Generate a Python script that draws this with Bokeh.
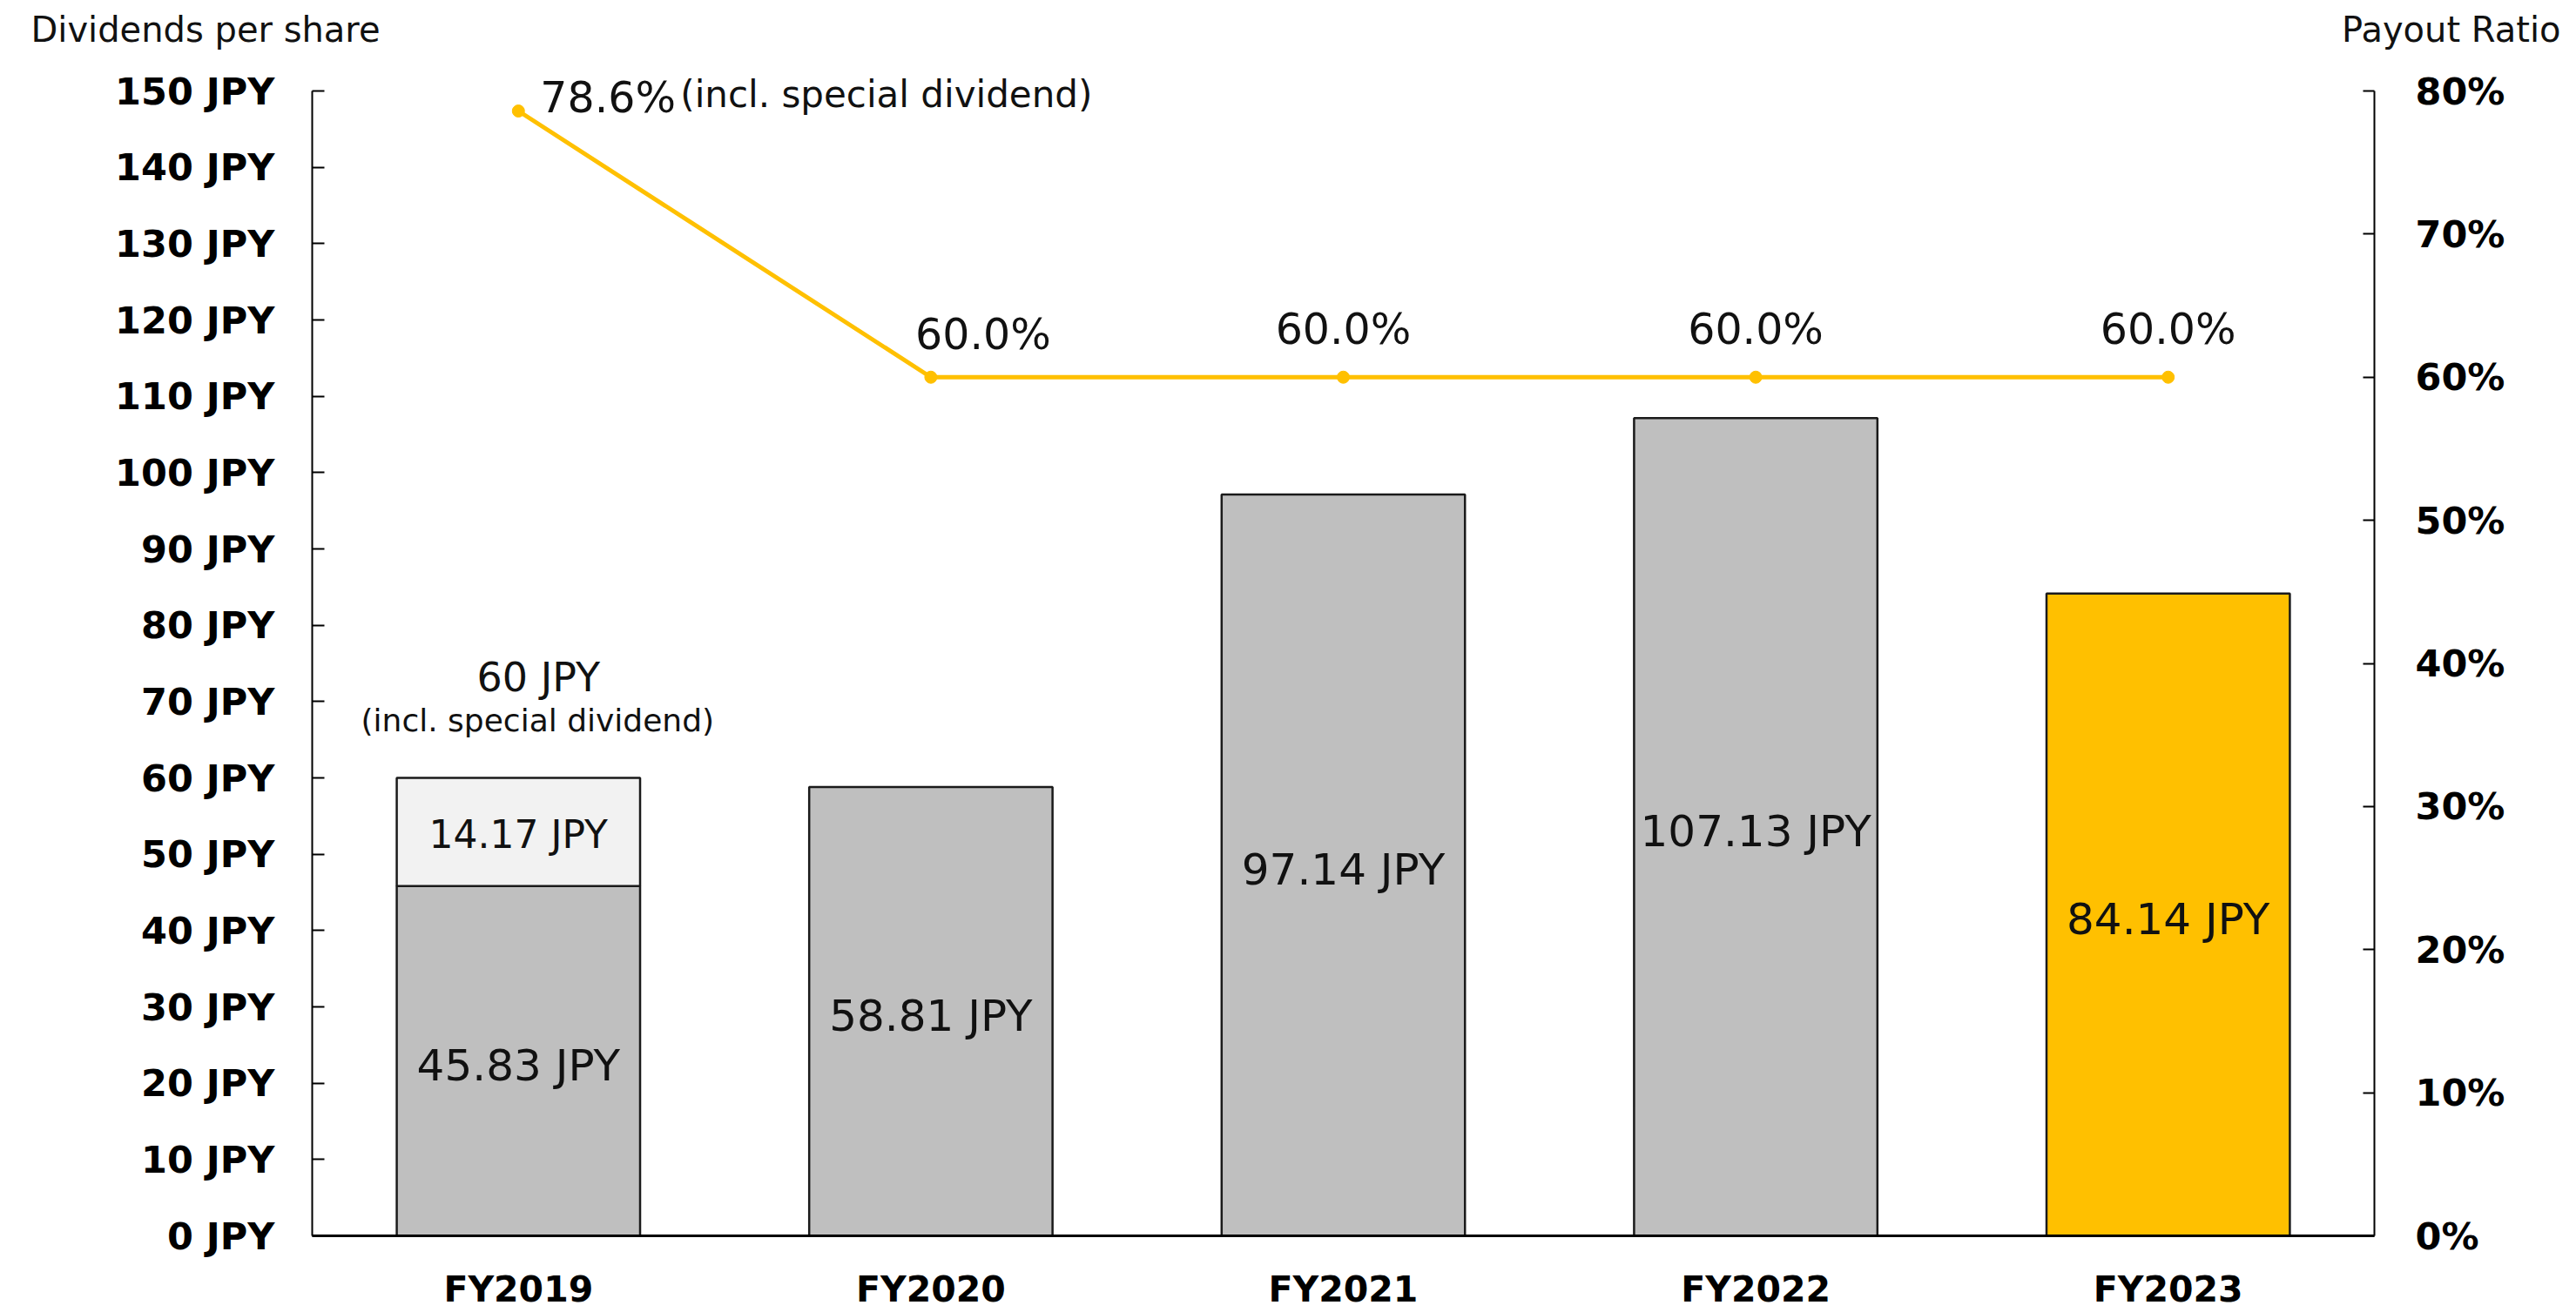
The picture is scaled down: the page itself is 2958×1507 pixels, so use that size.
from bokeh.plotting import figure
from bokeh.layouts import column
from bokeh.models import (FactorRange, Range1d, LinearAxis, FixedTicker,
                          PrintfTickFormatter, ColumnDataSource)
from bokeh.core.properties import value
from bokeh.embed import file_html
from bokeh.resources import INLINE

# Dividend data (JPY per share) and payout ratio (%)
categories = ["FY2019", "FY2020", "FY2021", "FY2022", "FY2023"]
ordinary_dividend = [45.83, 58.81, 97.14, 107.13, 84.14]
special_dividend = [14.17, 0.0, 0.0, 0.0, 0.0]
payout_ratio = [78.6, 60.0, 60.0, 60.0, 60.0]
jpy_ticks = list(range(0, 151, 10))
pct_ticks = list(range(0, 81, 10))
axis_titles = ["Dividends per share", "Payout Ratio"]

FONT = "DejaVu Sans"
W, H = 2958, 1507
HEADER_H = 64
LEFT, RIGHT, BOTTOM = 358, 232, 88
MAIN_H = H - HEADER_H
FRAME_H = MAIN_H - BOTTOM
JPY_MAX, PCT_MAX = 150, 80
AXIS_TOP_PX = 104 - HEADER_H  # row of the 150 JPY / 80% tick inside the main figure
px_per_jpy = (FRAME_H - AXIS_TOP_PX) / JPY_MAX
px_per_pct = (FRAME_H - AXIS_TOP_PX) / PCT_MAX
GRAY, LIGHT, GOLD = "#BFBFBF", "#F2F2F2", "#FFC000"
INK = "#111111"

# Header strip carrying the two axis titles (its frame fills the whole strip)
header = figure(frame_width=W, frame_height=HEADER_H, title=None,
                x_range=Range1d(0, W), y_range=Range1d(HEADER_H, 0),
                output_backend="svg", toolbar_location=None, min_border=0,
                x_axis_location=None, y_axis_location=None)
header.frame_align = False
header.grid.visible = False
header.outline_line_color = None
header.background_fill_color = "white"
header.border_fill_color = "white"
hdr_src = ColumnDataSource(dict(x=[35, 2940], y=[33, 33],
                                text=axis_titles, align=["left", "right"]))
header.text(x="x", y="y", text="text", text_align="align", text_baseline="middle",
            text_font=value(FONT), text_font_size="40px", text_color=INK, source=hdr_src)

p = figure(x_range=FactorRange(*categories), y_range=Range1d(0, FRAME_H / px_per_jpy),
           width=W, height=MAIN_H, output_backend="svg", toolbar_location=None,
           min_border_left=LEFT, min_border_right=RIGHT, min_border_top=0,
           min_border_bottom=BOTTOM)
p.frame_align = False
p.extra_y_ranges = {"pct": Range1d(0, FRAME_H / px_per_pct)}
p.outline_line_color = None
p.xgrid.visible = False
p.ygrid.visible = False
p.background_fill_color = "white"
p.border_fill_color = "white"

# Bars: ordinary dividend, with special dividend stacked on top
bar_colors = [GOLD if c == categories[-1] else GRAY for c in categories]
ord_src = ColumnDataSource(dict(
    x=categories, top=ordinary_dividend, color=bar_colors,
    mid=[v / 2 for v in ordinary_dividend],
    label=[f"{v:.2f} JPY" for v in ordinary_dividend]))
p.vbar(x="x", top="top", bottom=0, width=0.59, fill_color="color",
       line_color="#1a1a1a", line_width=2.5, source=ord_src)

sp = [(c, o, s) for c, o, s in zip(categories, ordinary_dividend, special_dividend) if s > 0]
sp_src = ColumnDataSource(dict(
    x=[c for c, _, _ in sp], bottom=[o for _, o, _ in sp], top=[o + s for _, o, s in sp],
    mid=[o + s / 2 for _, o, s in sp], label=[f"{s:.2f} JPY" for _, _, s in sp],
    total=[f"{o + s:.0f} JPY" for _, o, s in sp],
    note=["(incl. special dividend)" for _ in sp]))
p.vbar(x="x", top="top", bottom="bottom", width=0.59, fill_color=LIGHT,
       line_color="#1a1a1a", line_width=2.5, source=sp_src)

text_kw = dict(text_font=value(FONT), text_color=INK, text_align="center",
               text_baseline="middle")
p.text(x="x", y="mid", text="label", text_font_size="50px", y_offset=5,
       source=ord_src, **text_kw)
p.text(x="x", y="mid", text="label", text_font_size="44px", y_offset=3,
       source=sp_src, **text_kw)
p.text(x="x", y="top", text="total", text_font_size="46px", x_offset=23, y_offset=-116,
       source=sp_src, **text_kw)
p.text(x="x", y="top", text="note", text_font_size="36px", x_offset=22, y_offset=-66,
       source=sp_src, **text_kw)

# Payout ratio line on the secondary axis
p.line(categories, payout_ratio, y_range_name="pct", line_color=GOLD, line_width=5)
p.scatter(categories, payout_ratio, y_range_name="pct", size=14, fill_color=GOLD,
          line_color=GOLD)
pr_src = ColumnDataSource(dict(x=categories[1:], y=payout_ratio[1:],
                               label=[f"{r:.1f}%" for r in payout_ratio[1:]],
                               dx=[60, 0, 0, 0], dy=[-49, -55, -55, -55]))
p.text(x="x", y="y", text="label", y_range_name="pct", text_font_size="49px",
       x_offset="dx", y_offset="dy", source=pr_src, **text_kw)
first_src = ColumnDataSource(dict(x=categories[:1], y=payout_ratio[:1],
                                  label=[f"{payout_ratio[0]:.1f}%"],
                                  note=["(incl. special dividend)"]))
p.text(x="x", y="y", text="label", y_range_name="pct", text_font_size="49px",
       x_offset=25, y_offset=-15, text_font=value(FONT), text_color=INK,
       text_align="left", text_baseline="middle", source=first_src)
p.text(x="x", y="y", text="note", y_range_name="pct", text_font_size="42px",
       x_offset=186, y_offset=-19, text_font=value(FONT), text_color=INK,
       text_align="left", text_baseline="middle", source=first_src)

# Left axis (JPY)
ya = p.yaxis[0]
ya.ticker = FixedTicker(ticks=jpy_ticks)
ya.formatter = PrintfTickFormatter(format="%d JPY")
ya.bounds = (0, JPY_MAX)
ya.major_tick_in = 14
ya.major_tick_out = 0
ya.minor_tick_line_color = None
ya.axis_line_width = 2
ya.major_tick_line_width = 2
ya.major_label_standoff = 43
ya.major_label_text_font = FONT
ya.major_label_text_font_size = "43px"
ya.major_label_text_font_style = "bold"
ya.major_label_text_color = "black"

# Right axis (payout ratio)
ra = LinearAxis(y_range_name="pct", ticker=FixedTicker(ticks=pct_ticks),
                formatter=PrintfTickFormatter(format="%d%%"), bounds=(0, PCT_MAX))
ra.major_tick_in = 13
ra.major_tick_out = 0
ra.minor_tick_line_color = None
ra.axis_line_width = 2
ra.major_tick_line_width = 2
ra.major_label_standoff = 47
ra.major_label_text_font = FONT
ra.major_label_text_font_size = "43px"
ra.major_label_text_font_style = "bold"
ra.major_label_text_color = "black"
p.add_layout(ra, "right")

# Category axis
xa = p.xaxis[0]
xa.major_tick_line_color = None
xa.axis_line_width = 3
xa.major_label_standoff = 31
xa.major_label_text_font = FONT
xa.major_label_text_font_size = "41px"
xa.major_label_text_font_style = "bold"
xa.major_label_text_color = "black"

page = column(header, p, spacing=0)
open("out.html", "w").write(file_html(page, INLINE))
